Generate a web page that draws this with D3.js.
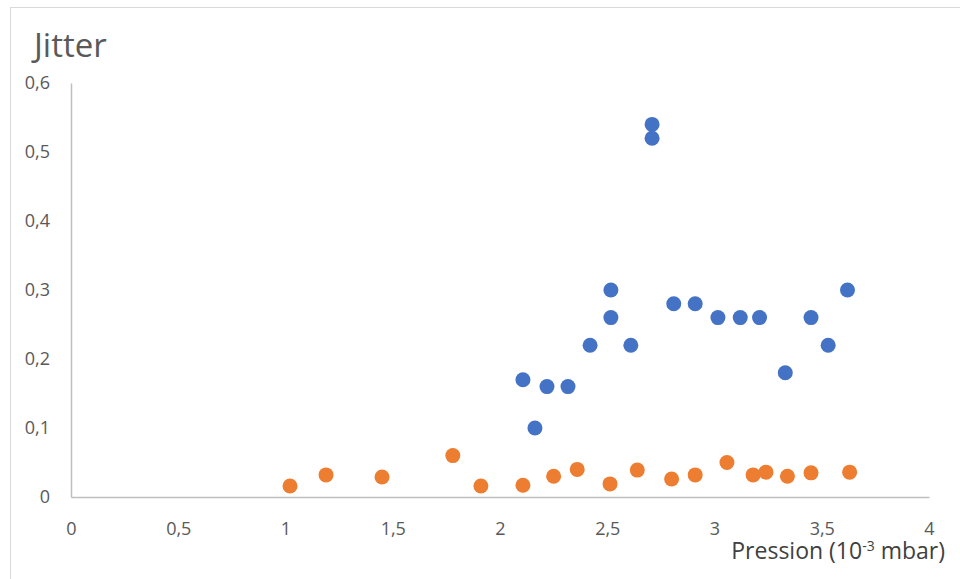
<!DOCTYPE html>
<html><head><meta charset="utf-8">
<script src="https://cdn.jsdelivr.net/npm/d3@7"></script>
<style>body{margin:0;background:#fff}svg{display:block;font-family:"Open Sans",sans-serif}</style>
</head><body><svg id="c" width="960" height="579"></svg>
<script>
const blueX = [2.107,2.163,2.219,2.317,2.42,2.517,2.517,2.61,2.709,2.709,2.81,2.91,3.016,3.12,3.21,3.33,3.45,3.53,3.62];
const blueY = [0.17,0.10,0.16,0.16,0.22,0.30,0.26,0.22,0.54,0.52,0.28,0.28,0.26,0.26,0.26,0.18,0.26,0.22,0.30];
const orangeX = [1.021,1.189,1.45,1.78,1.911,2.107,2.25,2.36,2.513,2.64,2.80,2.91,3.058,3.18,3.24,3.34,3.45,3.63];
const orangeY = [0.016,0.032,0.029,0.06,0.016,0.017,0.030,0.040,0.019,0.039,0.026,0.032,0.050,0.032,0.036,0.030,0.035,0.036];
const xTicks = [0,0.5,1,1.5,2,2.5,3,3.5,4];
const yTicks = [0,0.1,0.2,0.3,0.4,0.5,0.6];
const fmt = d => String(d).replace('.', ',');

const svg = d3.select('#c');
svg.append('rect').attr('x',10.5).attr('y',7.5).attr('width',1000).attr('height',1000)
  .attr('fill','#fff').attr('stroke','#d9d9d9');

const x = d3.scaleLinear().domain([0,4]).range([71,929]);
const y = d3.scaleLinear().domain([0,0.6]).range([497,83]);

const xAxis = svg.append('g').attr('transform','translate(0,497)')
  .call(d3.axisBottom(x).tickValues(xTicks).tickFormat(fmt).tickSize(0).tickPadding(25));
const yAxis = svg.append('g').attr('transform','translate(71,0)')
  .call(d3.axisLeft(y).tickValues(yTicks).tickFormat(fmt).tickSize(0).tickPadding(21));
[xAxis,yAxis].forEach(g=>{
  g.select('.domain').attr('stroke','#bfbfbf').attr('stroke-width',1.5);
  g.selectAll('text').attr('fill','#595959').style('font-size','18px').style('font-family','"Open Sans",sans-serif');
});

const pts = [[blueX,blueY,'#4472c4'],[orangeX,orangeY,'#ed7d31']];
pts.forEach(([xs,ys,c])=>{
  svg.append('g').selectAll('circle').data(xs.map((v,i)=>[v,ys[i]])).join('circle')
    .attr('cx',d=>x(d[0])).attr('cy',d=>y(d[1])).attr('r',7.5).attr('fill',c);
});

svg.append('text').attr('x',34).attr('y',57).attr('fill','#595959')
  .style('font-size','33px').text('Jitter');

const t = svg.append('text').attr('x',945).attr('y',559).attr('text-anchor','end')
  .attr('fill','#404040').style('font-size','23px');
t.append('tspan').text('Pression (10');
t.append('tspan').attr('dy',-8).style('font-size','14px').text('-3');
t.append('tspan').attr('dy',8).text(' mbar)');
</script></body></html>
